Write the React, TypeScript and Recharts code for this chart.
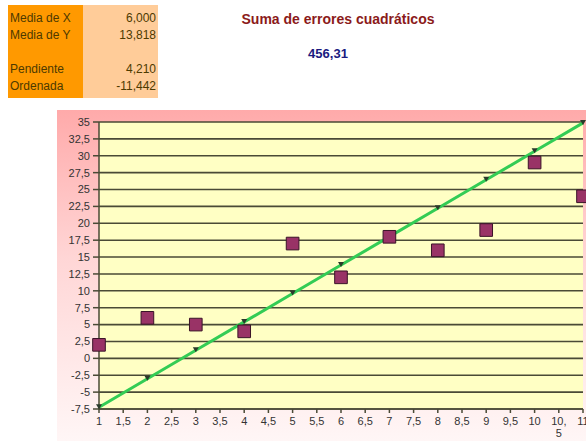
import { ComposedChart, Scatter, Line, XAxis, YAxis, ZAxis, CartesianGrid } from 'recharts'

const xValues = [1, 2, 3, 4, 5, 6, 7, 8, 9, 10, 11]
const yValues = [2, 6, 5, 4, 17, 12, 18, 16, 19, 29, 24]
const fitValues = [-7.232, -3.022, 1.188, 5.398, 9.608, 13.818, 18.028, 22.238, 26.448, 30.658, 34.868]
const xTicks = [1, 1.5, 2, 2.5, 3, 3.5, 4, 4.5, 5, 5.5, 6, 6.5, 7, 7.5, 8, 8.5, 9, 9.5, 10, 10.5, 11]
const yTicks = [-7.5, -5, -2.5, 0, 2.5, 5, 7.5, 10, 12.5, 15, 17.5, 20, 22.5, 25, 27.5, 30, 32.5, 35]

const statLabels = ['Media de X', 'Media de Y', '', 'Pendiente', 'Ordenada']
const statValues = ['6,000', '13,818', '', '4,210', '-11,442']
const title = 'Suma de errores cuadráticos'
const sse = '456,31'

const data = xValues.map((x, i) => ({ x, y: yValues[i], fit: fitValues[i] }))

const fmt = (v: number) => String(v).replace('.', ',')
const font = '"Liberation Sans", Arial, sans-serif'

function XTick({ x, y, payload }: any) {
  const s = fmt(payload.value)
  const c = s.indexOf(',')
  const parts = s.length > 3 ? [s.slice(0, c + 1), s.slice(c + 1)] : [s]
  return (
    <text x={x} y={y} textAnchor="middle" fontSize={11} fill="#333" fontFamily={font}>
      {parts.map((p, i) => (
        <tspan key={i} x={x} dy={i === 0 ? '0.71em' : '1.1em'}>{p}</tspan>
      ))}
    </text>
  )
}

function TriDot({ cx, cy, index }: any) {
  if (cx == null || cy == null) return null
  return <path key={index} d={`M${cx - 3},${cy - 3} L${cx + 3},${cy - 3} L${cx},${cy + 2} Z`} fill="#2a3a2a" />
}

export default function App() {
  return (
    <div style={{ position: 'absolute', left: 0, top: 0, width: 586, height: 441, background: '#fff', fontFamily: font, overflow: 'hidden' }}>
      {/* stats table */}
      <div style={{ position: 'absolute', left: 8, top: 5, width: 75, height: 93, background: '#ff9900' }} />
      <div style={{ position: 'absolute', left: 83, top: 5, width: 75, height: 93, background: '#ffcc99' }} />
      {statLabels.map((l, i) => (
        <div key={i} style={{ position: 'absolute', left: 10, top: 11 + i * 17, fontSize: 12, color: '#4d3a00', lineHeight: '14px' }}>{l}</div>
      ))}
      {statValues.map((v, i) => (
        <div key={i} style={{ position: 'absolute', left: 83, width: 73, textAlign: 'right', top: 11 + i * 17, fontSize: 12, color: '#4d3a00', lineHeight: '14px' }}>{v}</div>
      ))}

      <div style={{ position: 'absolute', left: 230, width: 216, top: 11, textAlign: 'center', fontSize: 14, fontWeight: 'bold', color: '#8b1a1a' }}>{title}</div>
      <div style={{ position: 'absolute', left: 280, width: 96, top: 46, textAlign: 'center', fontSize: 13, fontWeight: 'bold', color: '#1a1a80' }}>{sse}</div>

      {/* chart area */}
      <div style={{ position: 'absolute', left: 57, top: 110, width: 529, height: 331, background: 'linear-gradient(to bottom, #ffaaaa 0%, #ffd6d6 45%, #fff6f6 100%)' }} />
      <div style={{ position: 'absolute', left: 57, top: 110 }}>
        <ComposedChart width={529} height={331} data={data} margin={{ top: 12, right: 3, bottom: 0, left: 0 }}>
          <CartesianGrid vertical={false} fill="#ffffc4" fillOpacity={1} stroke="#4a4a36" strokeWidth={1.6} />
          <XAxis
            type="number"
            dataKey="x"
            domain={[1, 11]}
            ticks={xTicks}
            interval={0}
            height={32}
            tick={<XTick />}
            tickSize={4}
            tickMargin={4}
            stroke="#4a4a36"
            strokeWidth={1.5}
          />
          <YAxis
            type="number"
            domain={[-7.5, 35]}
            ticks={yTicks}
            interval={0}
            width={42}
            tickSize={6}
            tickMargin={3}
            tickFormatter={fmt}
            tick={{ fontSize: 11, fill: '#333', fontFamily: font }}
            stroke="#4a4a36"
            strokeWidth={1.5}
          />
          <ZAxis range={[160, 160]} />
          <Line dataKey="fit" stroke="#33cc55" strokeWidth={3} dot={<TriDot />} activeDot={false} isAnimationActive={false} />
          <Scatter dataKey="y" shape="square" fill="#993366" stroke="#3a1428" strokeWidth={1} isAnimationActive={false} />
        </ComposedChart>
      </div>
    </div>
  )
}
